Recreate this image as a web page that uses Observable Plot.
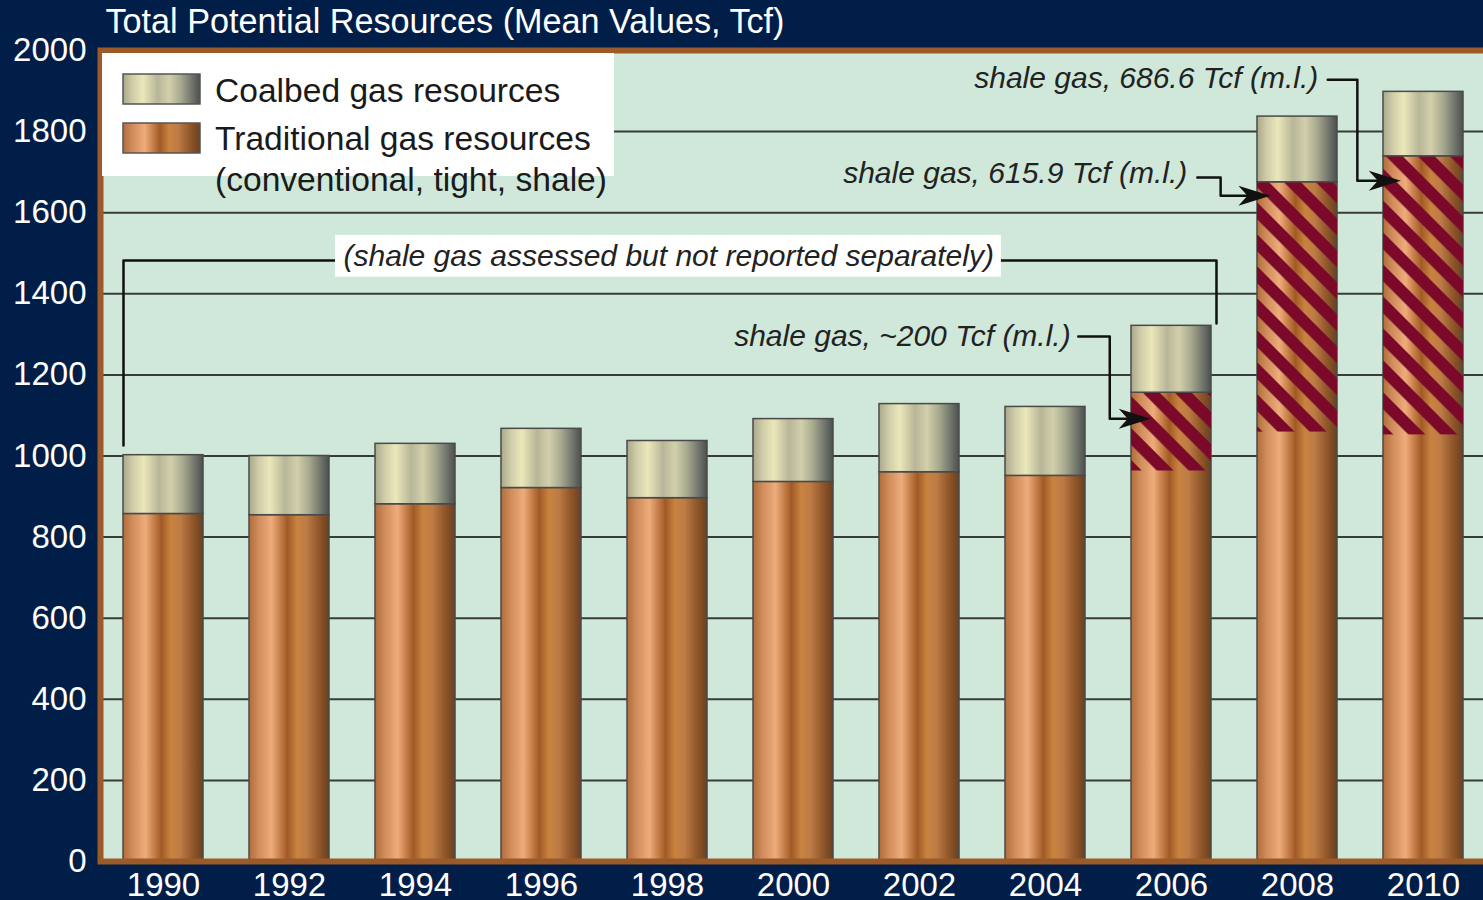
<!DOCTYPE html>
<html><head><meta charset="utf-8">
<script src="https://cdn.jsdelivr.net/npm/d3@7"></script>
<script src="https://cdn.jsdelivr.net/npm/@observablehq/plot@0.6"></script>
<style>
html,body{margin:0;padding:0;background:#011e48;overflow:hidden;}
#chart svg{display:block;max-width:none !important;}
</style></head><body>
<svg width="0" height="0" style="position:absolute">
<defs>
<linearGradient id="tradGrad" x1="0" x2="1" y1="0" y2="0">
 <stop offset="0" stop-color="#b06c3a"/>
 <stop offset="0.12" stop-color="#d08c5a"/>
 <stop offset="0.28" stop-color="#eeac7c"/>
 <stop offset="0.4" stop-color="#c27a45"/>
 <stop offset="0.48" stop-color="#a15a26"/>
 <stop offset="0.6" stop-color="#c9833f"/>
 <stop offset="0.72" stop-color="#bd7b46"/>
 <stop offset="0.86" stop-color="#94592b"/>
 <stop offset="1" stop-color="#6a4020"/>
</linearGradient>
<linearGradient id="coalGrad" x1="0" x2="1" y1="0" y2="0">
 <stop offset="0" stop-color="#a9a88c"/>
 <stop offset="0.12" stop-color="#cfcca8"/>
 <stop offset="0.26" stop-color="#ebe7ba"/>
 <stop offset="0.45" stop-color="#b7b698"/>
 <stop offset="0.6" stop-color="#d2cfab"/>
 <stop offset="0.75" stop-color="#a8a98f"/>
 <stop offset="0.9" stop-color="#6f736a"/>
 <stop offset="1" stop-color="#4c504d"/>
</linearGradient>
<pattern id="hatch" patternUnits="userSpaceOnUse" width="22.6" height="22.6" patternTransform="rotate(45)">
 <rect x="0" y="0" width="22.6" height="12" fill="#7b0a2a"/>
</pattern>
</defs></svg>
<div id="chart"></div>
<script>
// ---- data (Tcf, mean values) ----
const years = [1990, 1992, 1994, 1996, 1998, 2000, 2002, 2004, 2006, 2008, 2010];
const traditional = [857, 854, 881, 921, 896, 936, 960, 951, 1156, 1675, 1739];
const coalbed = [145, 146, 149, 146, 141, 155, 168, 170, 165, 162, 159];
const shale = [0, 0, 0, 0, 0, 0, 0, 0, 193, 616, 687];
const yTicks = [0, 200, 400, 600, 800, 1000, 1200, 1400, 1600, 1800, 2000];
const gridTicks = [200, 400, 600, 800, 1000, 1200, 1400, 1600, 1800];

const titleText = "Total Potential Resources (Mean Values, Tcf)";
const legendLabels = ["Coalbed gas resources", "Traditional gas resources", "(conventional, tight, shale)"];

// annotation texts and positions (data units: year, Tcf)
const noteTexts = ["shale gas, ~200 Tcf (m.l.)", "shale gas, 615.9 Tcf (m.l.)", "shale gas, 686.6 Tcf (m.l.)"];
const noteX = [2004.40, 2006.25, 2008.33];
const noteY = [1295, 1697, 1931];
const bracketText = "(shale gas assessed but not reported separately)";
const bracketPath = [[1989.365, 1026], [1989.365, 1482], [2006.714, 1482], [2006.714, 1327]];
const bracketBox = {x1: 1992.73, x2: 2003.30, y1: 1441, y2: 1544, x: 1998.02, y: 1492};
const callout2006 = [[2004.52, 1295], [2005.02, 1295], [2005.02, 1092], [2005.55, 1092]];
const callout2008 = [[2006.41, 1687], [2006.78, 1687], [2006.78, 1642], [2007.43, 1642]];
const callout2010 = [[2008.48, 1928], [2008.95, 1928], [2008.95, 1679], [2009.49, 1679]];
const arrowTips = [[2005.67, 1092], [2007.57, 1642], [2009.64, 1679]];

const half = 0.635; // half bar width in years

const rows = years.map((yr, i) => ({year: yr, trad: traditional[i], coal: coalbed[i], shale: shale[i]}));
const shaleRows = rows.filter(d => d.shale > 0);
const connectors = [
  ...bracketPath.map(([x, y]) => ({id: "b", x, y})),
  ...callout2006.map(([x, y]) => ({id: "c1", x, y})),
  ...callout2008.map(([x, y]) => ({id: "c2", x, y})),
  ...callout2010.map(([x, y]) => ({id: "c3", x, y}))
];
const notes = noteTexts.map((t, i) => ({t, x: noteX[i], y: noteY[i]}));
const tips = arrowTips.map(([x, y]) => ({x, y}));

const arrowHead = {
  draw(ctx) {
    ctx.moveTo(0, 0);
    ctx.lineTo(-32, -10);
    ctx.lineTo(-23, 0);
    ctx.lineTo(-32, 10);
    ctx.closePath();
  }
};

const font = "'Liberation Sans', Arial, Helvetica, sans-serif";

const chart = Plot.plot({
  width: 1500,
  height: 900,
  marginLeft: 100,
  marginRight: 10,
  marginTop: 50,
  marginBottom: 39,
  style: {background: "transparent", fontFamily: font, color: "white", overflow: "visible", maxWidth: "none"},
  x: {type: "linear", domain: [1989, 2011], range: [100, 1486]},
  y: {domain: [0, 2000], range: [861, 50]},
  marks: [
    Plot.frame({fill: "#cfe8da"}),
    Plot.ruleY(gridTicks, {stroke: "#3a3a3a", strokeWidth: 2}),
    Plot.line(connectors.filter(d => d.id === "b"), {x: "x", y: "y", stroke: "#111", strokeWidth: 2.5}),
    Plot.rect([bracketBox], {x1: "x1", x2: "x2", y1: "y1", y2: "y2", fill: "white"}),
    Plot.text([bracketBox], {x: "x", y: "y", text: () => bracketText, fontSize: 30, fontStyle: "italic", fill: "#222", textAnchor: "middle", lineAnchor: "middle"}),
    Plot.rect(rows, {x1: d => d.year - half, x2: d => d.year + half, y1: 0, y2: "trad", fill: "url(#tradGrad)", stroke: "#4a4a4a", strokeWidth: 1.5}),
    Plot.rect(shaleRows, {x1: d => d.year - half, x2: d => d.year + half, y1: d => d.trad - d.shale, y2: "trad", fill: "url(#hatch)"}),
    Plot.rect(rows, {x1: d => d.year - half, x2: d => d.year + half, y1: "trad", y2: d => d.trad + d.coal, fill: "url(#coalGrad)", stroke: "#4a4a4a", strokeWidth: 1.5}),
    Plot.line(connectors.filter(d => d.id !== "b"), {x: "x", y: "y", z: "id", stroke: "#111", strokeWidth: 2.5}),
    Plot.dot(tips, {x: "x", y: "y", symbol: arrowHead, fill: "#111", stroke: "none"}),
    Plot.text(notes, {x: "x", y: "y", text: "t", fontSize: 30, fontStyle: "italic", fill: "#222", textAnchor: "end", lineAnchor: "middle"}),
    Plot.frame({stroke: "#9c5a28", strokeWidth: 6}),
    Plot.axisY(yTicks, {tickSize: 0, tickPadding: 14, fontSize: 33, color: "white", tickFormat: d => String(d), label: null}),
    Plot.axisX(years, {tickSize: 0, tickPadding: 11, fontSize: 33, color: "white", tickFormat: d => String(d), label: null}),
    Plot.text([titleText], {text: d => d, frameAnchor: "top-left", dx: 5, dy: -28, textAnchor: "start", lineAnchor: "middle", fontSize: 34.2, fill: "white"})
  ]
});
chart.style.maxWidth = "none";
document.getElementById("chart").append(chart);

// legend
const svg = d3.select(chart);
const lg = svg.append("g").attr("font-family", font).attr("text-anchor", "start");
lg.append("rect").attr("x", 102).attr("y", 53).attr("width", 512).attr("height", 123).attr("fill", "white");
lg.append("rect").attr("x", 123).attr("y", 74).attr("width", 77).attr("height", 30).attr("fill", "url(#coalGrad)").attr("stroke", "#555").attr("stroke-width", 1.5);
lg.append("rect").attr("x", 123).attr("y", 123).attr("width", 77).attr("height", 30).attr("fill", "url(#tradGrad)").attr("stroke", "#555").attr("stroke-width", 1.5);
const ly = [102, 150, 191];
legendLabels.forEach((t, i) => {
  lg.append("text").attr("x", 215).attr("y", ly[i]).attr("font-size", 33.6).attr("fill", "#1a1a1a").attr("text-anchor", "start").text(t);
});
</script>
</body></html>
